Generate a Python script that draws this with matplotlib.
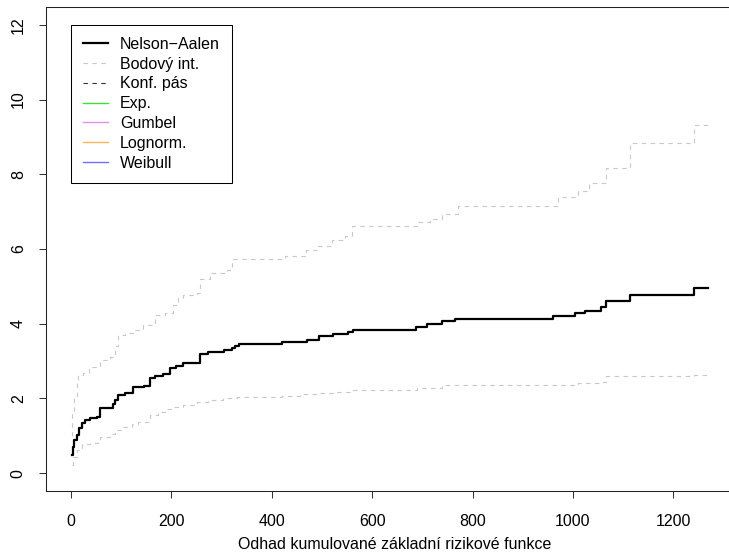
import matplotlib
matplotlib.use("Agg")
import matplotlib.pyplot as plt
from matplotlib.lines import Line2D

# Nelson-Aalen estimate (step function)
na_t = [1, 3, 6, 11, 16, 21, 28, 38, 51, 58, 83, 88, 94, 108, 124, 145, 157, 167, 184,
        197, 210, 224, 250, 256, 273, 305, 320, 327, 335, 421, 471, 495, 522, 552, 562,
        687, 710, 740, 765, 960, 1004, 1025, 1056, 1065, 1113, 1242, 1270]
na_y = [0.48, 0.70, 0.88, 1.02, 1.20, 1.33, 1.42, 1.47, 1.51, 1.75, 1.85, 1.97, 2.09,
        2.14, 2.30, 2.33, 2.54, 2.61, 2.65, 2.81, 2.87, 2.94, 2.96, 3.19, 3.24, 3.30,
        3.34, 3.41, 3.46, 3.50, 3.57, 3.66, 3.72, 3.79, 3.84, 3.92, 3.99, 4.06, 4.13,
        4.21, 4.28, 4.35, 4.44, 4.60, 4.78, 4.95, 4.95]

# pointwise interval: upper bound
up_t = [1, 2, 6, 11, 14, 24, 36, 58, 78, 88, 94, 108, 124, 144, 167, 187, 204, 214,
        224, 250, 257, 277, 310, 320, 426, 462, 469, 493, 519, 546, 559, 689, 715, 740,
        771, 970, 1010, 1032, 1065, 1113, 1242, 1270]
up_y = [1.00, 1.60, 2.05, 2.40, 2.63, 2.67, 2.85, 3.03, 3.12, 3.39, 3.70, 3.75, 3.83,
        3.97, 4.24, 4.28, 4.50, 4.68, 4.77, 4.82, 5.20, 5.35, 5.44, 5.73, 5.80, 5.82,
        5.98, 6.07, 6.25, 6.34, 6.61, 6.71, 6.80, 6.94, 7.14, 7.38, 7.56, 7.78, 8.17,
        8.84, 9.33, 9.33]

# pointwise interval: lower bound
lo_t = [1, 3, 11, 21, 38, 54, 58, 78, 88, 104, 121, 134, 157, 174, 187, 200, 224, 250,
        273, 303, 330, 421, 456, 492, 522, 559, 689, 740, 970, 1010, 1032, 1056, 1065,
        1242, 1270]
lo_y = [0.21, 0.44, 0.62, 0.77, 0.81, 0.84, 0.97, 1.05, 1.15, 1.24, 1.31, 1.38, 1.55,
        1.64, 1.71, 1.78, 1.82, 1.91, 1.96, 2.00, 2.05, 2.06, 2.11, 2.14, 2.17, 2.23,
        2.27, 2.36, 2.37, 2.40, 2.41, 2.45, 2.59, 2.63, 2.63]

legend_labels = ["Nelson\u2212Aalen", "Bodový int.", "Konf. pás", "Exp.", "Gumbel",
                 "Lognorm.", "Weibull"]
legend_colors = ["black", "#c8c8c8", "#333333", "#33e633", "#e68ef0", "#f7b95a", "#7070ff"]
legend_styles = ["-", "--", "--", "-", "-", "-", "-"]
legend_widths = [1.6, 0.8, 0.8, 1.0, 1.0, 1.0, 1.0]

x_ticks = [0, 200, 400, 600, 800, 1000, 1200]
y_ticks = [0, 2, 4, 6, 8, 10, 12]
xlabel = "Odhad kumulované základní rizikové funkce"

plt.rcParams['font.family'] = ['Liberation Sans', 'DejaVu Sans']
FS = 11.5

W, H = 729, 555
fig = plt.figure(figsize=(W / 100, H / 100), dpi=100)
left_px, right_px, top_px, bottom_px = 46, 743.5, 7, 491
ax = fig.add_axes([left_px / W, 1 - bottom_px / H, (right_px - left_px) / W,
                   (bottom_px - top_px) / H])

dash = (0, (4, 4))
ax.step(up_t, up_y, where='post', color="#c8c8c8", lw=0.8, linestyle=dash)
ax.step(lo_t, lo_y, where='post', color="#c8c8c8", lw=0.8, linestyle=dash)
ax.step(na_t, na_y, where='post', color="black", lw=1.6)

ax.set_xlim(-50, 1340)
ax.set_ylim(-0.48, 12.48)
ax.set_xticks(x_ticks)
ax.set_yticks(y_ticks)
ax.set_xticklabels([str(v) for v in x_ticks])
ax.set_yticklabels([str(v) for v in y_ticks], rotation=90, va='center')
ax.tick_params(axis='both', direction='out', length=5, width=0.75, labelsize=FS,
               color='#333333')
ax.tick_params(axis='x', pad=11.5)
ax.tick_params(axis='y', pad=9.5)
for s in ax.spines.values():
    s.set_linewidth(0.75)
    s.set_color('#222222')
ax.set_xlabel(xlabel, fontsize=FS, labelpad=6)

handles = []
for lab, c, ls, lw in zip(legend_labels, legend_colors, legend_styles, legend_widths):
    if ls == "--":
        handles.append(Line2D([], [], color=c, lw=lw, linestyle=(0, (4, 4))))
    else:
        handles.append(Line2D([], [], color=c, lw=lw, linestyle=ls))
leg = ax.legend(handles, legend_labels, loc='upper left',
                bbox_to_anchor=(0, 12), bbox_transform=ax.transData,
                fontsize=FS, frameon=True, fancybox=False, shadow=False,
                edgecolor='black', framealpha=1, borderaxespad=0,
                handlelength=1.55, handletextpad=0.75, labelspacing=0.30,
                borderpad=0.75)
leg.get_frame().set_linewidth(0.75)

fig.savefig("out.png", dpi=100)
